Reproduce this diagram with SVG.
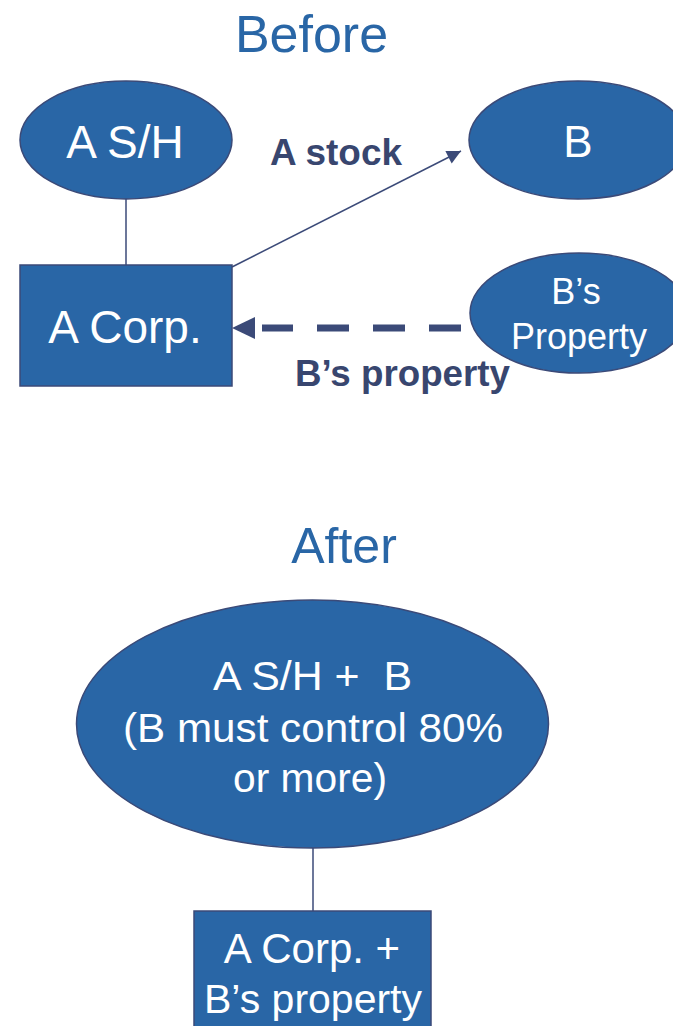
<svg xmlns="http://www.w3.org/2000/svg" width="673" height="1026" viewBox="0 0 673 1026">
  <style>
    .shape { fill: #2966a6; stroke: #3b4a78; stroke-width: 1.5; }
    .label { font-family: "Liberation Sans", Arial, sans-serif; fill: #ffffff; text-anchor: middle; }
    .title { font-family: "Liberation Sans", Arial, sans-serif; fill: #2966a6; text-anchor: middle; }
    .edge-label { font-family: "Liberation Sans", Arial, sans-serif; fill: #38466f; font-weight: bold; font-size: 36px; }
    .conn { stroke: #3b4a78; fill: none; }
  </style>
  <defs>
    <marker id="arrow" viewBox="0 0 10 10" refX="10" refY="5" markerWidth="16" markerHeight="14" markerUnits="userSpaceOnUse" orient="auto">
      <path d="M0,0 L10,5 L0,10 Z" fill="#3b4a78"/>
    </marker>
  </defs>

  <rect width="673" height="1026" fill="#ffffff"/>

  <!-- Titles -->
  <text class="title" x="311.5" y="52" font-size="52">Before</text>
  <text class="title" x="344" y="563" font-size="50">After</text>

  <!-- Connectors -->
  <g id="connectors">
    <line class="conn" x1="126" y1="199" x2="126" y2="265" stroke-width="1.5"/>
    <line class="conn" x1="232" y1="267" x2="461" y2="151" stroke-width="1.5" marker-end="url(#arrow)"/>
    <line class="conn" x1="461" y1="328" x2="262" y2="328" stroke-width="7" stroke-dasharray="32 24"/>
    <polygon points="232,328 255,317 255,339" fill="#3b4a78"/>
    <line class="conn" x1="313" y1="848" x2="313" y2="911" stroke-width="1.5"/>
    <text class="edge-label" x="270" y="165" textLength="132" lengthAdjust="spacingAndGlyphs">A stock</text>
    <text class="edge-label" x="295" y="386" textLength="215" lengthAdjust="spacingAndGlyphs">B’s property</text>
  </g>

  <!-- Before: shareholders of A -->
  <g id="a-sh">
    <ellipse class="shape" cx="126" cy="140" rx="106" ry="59"/>
    <text class="label" x="125" y="158" font-size="46">A S/H</text>
  </g>

  <!-- Before: A Corp. -->
  <g id="a-corp">
    <rect class="shape" x="20" y="265" width="212" height="121"/>
    <text class="label" x="125" y="343" font-size="46">A Corp.</text>
  </g>

  <!-- Before: B -->
  <g id="b">
    <ellipse class="shape" cx="578" cy="140" rx="109" ry="59"/>
    <text class="label" x="578" y="157" font-size="44">B</text>
  </g>

  <!-- Before: B's property -->
  <g id="b-property">
    <ellipse class="shape" cx="579" cy="313" rx="109" ry="60"/>
    <text class="label" x="576" y="304" font-size="36">B’s</text>
    <text class="label" x="579" y="349" font-size="36">Property</text>
  </g>

  <!-- After: combined shareholders -->
  <g id="after-sh">
    <ellipse class="shape" cx="312.5" cy="724" rx="236" ry="124"/>
    <text class="label" x="312.5" y="690" font-size="40" xml:space="preserve" textLength="199" lengthAdjust="spacingAndGlyphs">A S/H +  B</text>
    <text class="label" x="313" y="742" font-size="40" textLength="380" lengthAdjust="spacingAndGlyphs">(B must control 80%</text>
    <text class="label" x="310" y="792" font-size="40" textLength="154" lengthAdjust="spacingAndGlyphs">or more)</text>
  </g>

  <!-- After: A Corp. holding B's property -->
  <g id="after-corp">
    <rect class="shape" x="194" y="911" width="237" height="130"/>
    <text class="label" x="312" y="963" font-size="42">A Corp. +</text>
    <text class="label" x="313" y="1013" font-size="41">B’s property</text>
  </g>
</svg>
